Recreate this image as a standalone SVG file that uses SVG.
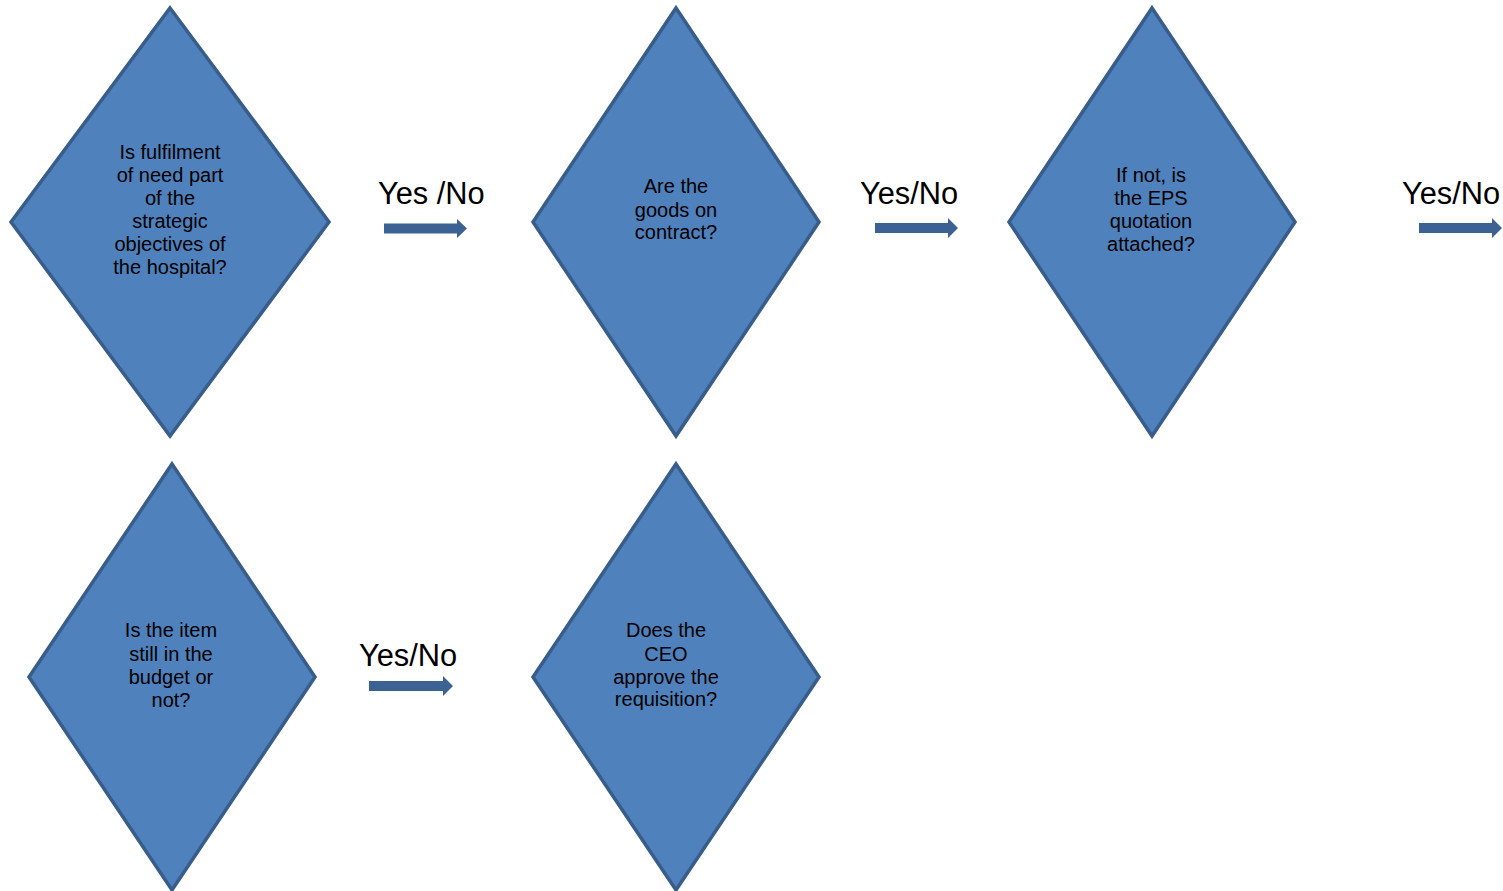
<svg xmlns="http://www.w3.org/2000/svg" width="1503" height="891" viewBox="0 0 1503 891">
<style>
.d{fill:#4f81bd;stroke:#385d8a;stroke-width:3.5;stroke-linejoin:miter}
.t{font-family:"Liberation Sans",Arial,sans-serif;font-size:20px;fill:#000;text-anchor:middle}
.l{font-family:"Liberation Sans",Arial,sans-serif;font-size:30.8px;fill:#000}
.a{fill:#3c6294}
</style>
<rect width="1503" height="891" fill="#fff"/>
<g id="n1">
<polygon class="d" points="170,8 329,222 170,436 11,222"/>
<text class="t" x="170"><tspan x="170" y="159">Is fulfilment</tspan><tspan x="170" y="182">of need part</tspan><tspan x="170" y="205">of the</tspan><tspan x="170" y="228">strategic</tspan><tspan x="170" y="251">objectives of</tspan><tspan x="170" y="274">the hospital?</tspan></text>
</g>
<g id="n2">
<polygon class="d" points="676,8 819,222 676,436 533,222"/>
<text class="t"><tspan x="676" y="193">Are the</tspan><tspan x="676" y="217">goods on</tspan><tspan x="676" y="239">contract?</tspan></text>
</g>
<g id="n3">
<polygon class="d" points="1152,8 1295,222 1152,436 1009,222"/>
<text class="t"><tspan x="1151" y="182">If not, is</tspan><tspan x="1151" y="205">the EPS</tspan><tspan x="1151" y="228">quotation</tspan><tspan x="1151" y="251">attached?</tspan></text>
</g>
<g id="n4">
<polygon class="d" points="172,464 315,677 172,890 29,677"/>
<text class="t"><tspan x="171" y="637">Is the item</tspan><tspan x="171" y="661">still in the</tspan><tspan x="171" y="684">budget or</tspan><tspan x="171" y="707">not?</tspan></text>
</g>
<g id="n5">
<polygon class="d" points="676,464 819,677 676,890 533,677"/>
<text class="t"><tspan x="666" y="637">Does the</tspan><tspan x="666" y="661">CEO</tspan><tspan x="666" y="684">approve the</tspan><tspan x="666" y="706">requisition?</tspan></text>
</g>
<g id="connectors">
<text class="l" x="378" y="204">Yes /No</text>
<polygon class="a" points="384,223.5 457,223.5 457,219 467,228.5 457,238 457,233.5 384,233.5"/>
<text class="l" x="860" y="204">Yes/No</text>
<polygon class="a" points="875,223 948,223 948,218 958,228 948,238 948,233 875,233"/>
<text class="l" x="1402" y="204">Yes/No</text>
<polygon class="a" points="1419,223 1492,223 1492,218 1502,228 1492,238 1492,233 1419,233"/>
<text class="l" x="359" y="666">Yes/No</text>
<polygon class="a" points="369,681 443,681 443,676 453,686 443,696 443,691 369,691"/>
</g>
</svg>
